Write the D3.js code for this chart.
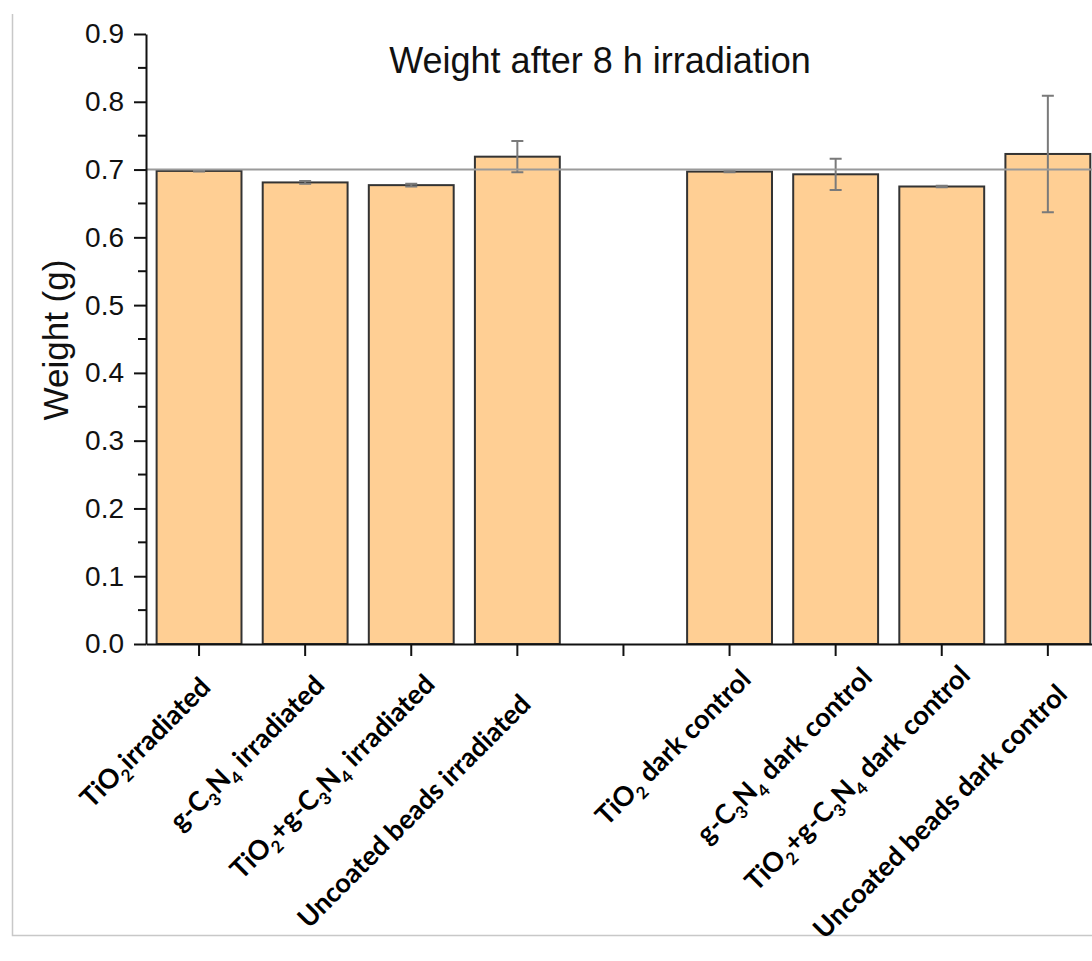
<!DOCTYPE html>
<html>
<head>
<meta charset="utf-8">
<script src="https://cdn.jsdelivr.net/npm/d3@7"></script>
<style>
  body { margin: 0; background: #fff; }
  svg { display: block; }
</style>
</head>
<body>
<svg id="chart"></svg>
<script>
// DATA //
// "_n" marks a subscript digit in a label
const categories = [
    "TiO_2irradiated",
    "g-C_3N_4 irradiated",
    "TiO_2+g-C_3N_4 irradiated",
    "Uncoated beads irradiated",
    "",
    "TiO_2 dark control",
    "g-C_3N_4 dark control",
    "TiO_2+g-C_3N_4 dark control",
    "Uncoated beads dark control"
]
const weights = [0.698, 0.681, 0.677, 0.719, null, 0.697, 0.693, 0.675, 0.723]
const errors = [0.001, 0.002, 0.002, 0.023, null, 0.001, 0.023, 0.001, 0.086]
const yTicks = [0, 0.1, 0.2, 0.3, 0.4, 0.5, 0.6, 0.7, 0.8, 0.9]
const refValue = 0.7

// LAYOUT //
const width = 1092
const height = 961
const x0 = 146
const step = 106.1
const yTop = 34
const yBottom = 644
// the category labels were placed by hand in the original, so nudge them a bit
const labelNudge = [[-10, 2], [-2, 0], [2, -1], [-8, 19], [0, 0], [0, -6], [15, -8], [7, -10], [-2, 9]]

const svg = d3.select('#chart')
    .attr('width', width)
    .attr('height', height)

// page frame (scanned figure border)
svg.append('path')
    .attr('d', `M12.5,14 V935.5 H${width}`)
    .attr('fill', 'none')
    .attr('stroke', '#c8c8c8')
    .attr('stroke-width', 1.5)

let x = d3.scaleBand()
    .domain(d3.range(categories.length))
    .range([x0, x0 + step * categories.length])
    .paddingInner(0.2)
    .paddingOuter(0.1)

let y = d3.scaleLinear().domain([0, 0.9]).range([yBottom, yTop])

// BARS //
const bars = categories.map((c, i) => ({i: i, v: weights[i], e: errors[i]})).filter(d => d.v != null)

svg.selectAll('rect.bar')
    .data(bars)
    .enter()
    .append('rect')
    .attr('class', 'bar')
    .attr('x', d => x(d.i))
    .attr('y', d => y(d.v))
    .attr('width', x.bandwidth())
    .attr('height', d => y(0) - y(d.v))
    .attr('fill', '#ffcf94')
    .attr('stroke', '#333')
    .attr('stroke-width', 2)

// ERROR BARS //
const eb = svg.append('g')
    .attr('stroke', '#7a7a7a')
    .attr('stroke-width', 2)
    .attr('fill', 'none')

eb.selectAll('path')
    .data(bars)
    .enter()
    .append('path')
    .attr('d', d => {
        const cx = x(d.i) + x.bandwidth() / 2
        const hi = y(d.v + d.e), lo = y(d.v - d.e)
        return `M${cx - 6},${hi} H${cx + 6} M${cx},${hi} V${lo} M${cx - 6},${lo} H${cx + 6}`
    })

// REFERENCE LINE //
svg.append('line')
    .attr('x1', x0)
    .attr('x2', width)
    .attr('y1', y(refValue))
    .attr('y2', y(refValue))
    .attr('stroke', '#9a9a9a')
    .attr('stroke-width', 2)

// AXES //
const yAxis = svg.append('g')
    .attr('transform', `translate(${x0},0)`)
    .call(d3.axisLeft(y).tickValues(yTicks).tickFormat(d3.format('.1f')).tickSize(12).tickSizeOuter(0).tickPadding(10))

yAxis.selectAll('text')
    .attr('font-family', '"Liberation Sans", Arial, sans-serif')
    .attr('font-size', 28)
    .attr('fill', '#111')

// minor ticks
const minor = d3.range(0.05, 0.9, 0.1)
svg.append('g')
    .selectAll('line')
    .data(minor)
    .enter()
    .append('line')
    .attr('x1', x0 - 8)
    .attr('x2', x0)
    .attr('y1', d => y(d))
    .attr('y2', d => y(d))
    .attr('stroke', '#111')
    .attr('stroke-width', 2)

const xAxis = svg.append('g')
    .attr('transform', `translate(0,${yBottom})`)
    .call(d3.axisBottom(x).tickFormat('').tickSize(12).tickSizeOuter(0))

svg.selectAll('.domain, .tick line')
    .attr('stroke', '#111')
    .attr('stroke-width', 2)

// X LABELS //
const labels = svg.append('g')
    .selectAll('text')
    .data(categories.map((c, i) => ({i: i, c: c})).filter(d => d.c !== ''))
    .enter()
    .append('text')
    .attr('transform', d => {
        const n = labelNudge[d.i]
        const lx = x(d.i) + x.bandwidth() / 2 + 23 + n[0]
        const ly = yBottom + 43 + n[1]
        return `translate(${lx},${ly}) rotate(-45)`
    })
    .attr('text-anchor', 'end')
    .attr('font-family', 'Lato, "Open Sans", sans-serif')
    .attr('font-weight', 700)
    .attr('font-size', 27)
    .attr('fill', '#000')

labels.each(function(d) {
    const t = d3.select(this)
    const parts = d.c.split(/_(\d)/)
    let sub = false
    parts.forEach((p, k) => {
        if (p === '') return
        const isSub = k % 2 === 1
        const ts = t.append('tspan').text(p)
        if (isSub) {
            ts.attr('font-size', 17).attr('dy', 7)
            sub = true
        } else if (sub) {
            ts.attr('dy', -7)
            sub = false
        }
    })
})

// TITLES //
svg.append('text')
    .attr('x', 600)
    .attr('y', 73)
    .attr('text-anchor', 'middle')
    .attr('font-family', '"Liberation Sans", Arial, sans-serif')
    .attr('font-size', 36)
    .attr('fill', '#111')
    .text('Weight after 8 h irradiation')

svg.append('text')
    .attr('transform', 'translate(68,340) rotate(-90)')
    .attr('text-anchor', 'middle')
    .attr('font-family', '"Liberation Sans", Arial, sans-serif')
    .attr('font-size', 35)
    .attr('fill', '#111')
    .text('Weight (g)')
</script>
</body>
</html>
